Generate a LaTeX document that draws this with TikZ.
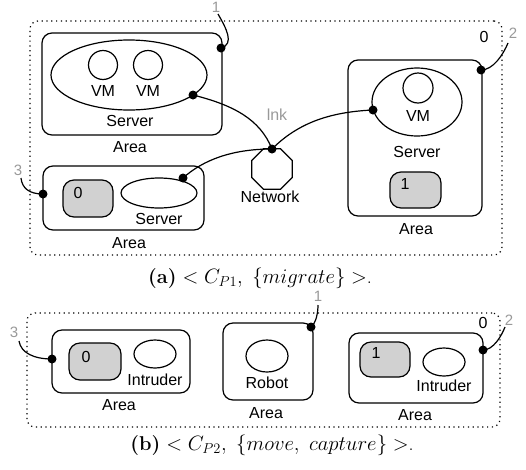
\documentclass[tikz,border=0pt]{standalone}
\usepackage{fontspec}
\newfontfamily\hv{Liberation Sans}
\usetikzlibrary{shapes.geometric}
\tikzset{
  lbl/.style={font=\hv\fontsize{16}{19}\selectfont, inner sep=0pt},
  nm/.style={font=\hv\fontsize{15}{18}\selectfont, text=black!40, inner sep=0pt},
  captiontext/.style={font=\fontsize{20}{24}\selectfont, inner sep=0pt},
  outerbox/.style={draw, line width=1.2pt, dash pattern=on 1.2pt off 3.6pt, rounded corners=8pt, inner sep=0pt},
  areabox/.style={draw, line width=1.2pt, rounded corners=10pt, inner sep=0pt},
  srv/.style={draw, ellipse, line width=1.2pt, inner sep=0pt},
  vm/.style={draw, circle, line width=1.2pt, inner sep=0pt, minimum size=29pt},
  greybox/.style={draw, line width=1.2pt, fill=black!18, rounded corners=11pt, inner sep=0pt},
  port/.style={circle, fill=black, inner sep=0pt, minimum size=9pt},
  lnk/.style={line width=1.2pt},
  net/.style={draw, regular polygon, regular polygon sides=8, minimum size=44pt, line width=1.2pt, inner sep=0pt},
}
\begin{document}
\begin{tikzpicture}[x=1pt,y=-1pt]
\useasboundingbox (0,0) rectangle (526,469);

% ---------------- (a) ----------------
\node[outerbox, minimum width=472pt, minimum height=234pt] (O1) at (266,138) {};
% top-left area
\node[areabox, minimum width=180pt, minimum height=102pt] (A1) at (132,84) {};
\node[srv, minimum width=156pt, minimum height=70pt] (S1) at (129,75) {};
\node[vm] (V11) at (103,65) {};
\node[vm] (V12) at (148,65) {};
\node[lbl] (tV11) at (103,91) {VM};
\node[lbl] (tV12) at (148,91) {VM};
\node[lbl] (tS1) at (130,121) {Server};
\node[lbl] (tA1) at (130,147) {Area};
% right area
\node[areabox, minimum width=134pt, minimum height=156pt] (A2) at (415,138) {};
\node[srv, minimum width=90pt, minimum height=68pt] (S2) at (417,102) {};
\node[vm, minimum size=30pt] (V2) at (418,88) {};
\node[lbl] (tV2) at (418,116) {VM};
\node[lbl] (tS2) at (417,152) {Server};
\node[greybox, minimum width=51pt, minimum height=36pt] (G1) at (415.5,190) {};
\node[lbl] (tG1) at (405,184) {1};
\node[lbl] (tA2) at (416,229) {Area};
% bottom-left area
\node[areabox, minimum width=161pt, minimum height=64pt] (A3) at (123.5,198) {};
\node[greybox, minimum width=50pt, minimum height=37pt] (G0) at (88,198.5) {};
\node[lbl] (tG0) at (78,193) {0};
\node[srv, minimum width=76pt, minimum height=30pt] (S3) at (159,193) {};
\node[lbl] (tS3) at (159,219) {Server};
\node[lbl] (tA3) at (129,243) {Area};
% network
\node[net] (N) at (272,169) {};
\node[lbl] (tN) at (270,197) {Network};
\node[nm, font=\hv\fontsize{16}{19}\selectfont] (tL) at (277,115) {lnk};
% names
\node[nm] (n1) at (216,7) {1};
\node[nm] (n2) at (513,33) {2};
\node[nm] (n3) at (18,170) {3};
\node[lbl] (r0) at (484,37) {0};
\coordinate (e1) at (218,14);
\coordinate (e2) at (508,43);
\coordinate (e3) at (21,178);
% ports
\node[port] (p1) at (221,48) {};
\node[port] (p2) at (193,95) {};
\node[port] (pn) at (272,149) {};
\node[port] (p3) at (373,110) {};
\node[port] (p4) at (481,70) {};
\node[port] (p5) at (183,178) {};
\node[port] (p6) at (43,194) {};
% links
\draw[lnk] (p1.center) .. controls +(14,-4) and +(8,14) .. (e1);
\draw[lnk] (p2.center) .. controls +(40,10) and +(-12,-30) .. (pn.center);
\draw[lnk] (pn.center) .. controls +(25,-25) and +(-45,2) .. (p3.center);
\draw[lnk] (p5.center) .. controls +(20,-18) and +(-40,0) .. (pn.center);
\draw[lnk] (p4.center) .. controls +(12,0) and +(-5,12) .. (e2);
\draw[lnk] (p6.center) .. controls +(-14,0) and +(1,10) .. (e3);
\node[captiontext] (capA) at (260,278) {\textbf{(a)} $<C_{P1},\ \{migrate\}>$.};

% ---------------- (b) ----------------
\node[outerbox, minimum width=473pt, minimum height=114pt] (O2) at (263.5,370) {};
\node[areabox, minimum width=138pt, minimum height=63pt] (B1) at (121,361.5) {};
\node[greybox, minimum width=52pt, minimum height=37pt] (H0) at (95,361.5) {};
\node[lbl] (tH0) at (86,357) {0};
\node[srv, minimum width=42pt, minimum height=28pt] (E1) at (155,354) {};
\node[lbl] (tE1) at (155,380) {Intruder};
\node[lbl] (tB1) at (119,405) {Area};
\node[areabox, minimum width=90pt, minimum height=77pt] (B2) at (268,361.5) {};
\node[srv, minimum width=42pt, minimum height=32pt] (E2) at (267,356) {};
\node[lbl] (tE2) at (267,383) {Robot};
\node[lbl] (tB2) at (266,413) {Area};
\node[areabox, minimum width=134pt, minimum height=70pt] (B3) at (416,368) {};
\node[greybox, minimum width=50pt, minimum height=35pt] (H1) at (385,359.5) {};
\node[lbl] (tH1) at (376,353) {1};
\node[srv, minimum width=42pt, minimum height=28pt] (E3) at (444,362) {};
\node[lbl] (tE3) at (444,386) {Intruder};
\node[lbl] (tB3) at (415,415) {Area};
\node[nm] (m1) at (318,296) {1};
\node[nm] (m2) at (509,320) {2};
\node[nm] (m3) at (14,332) {3};
\node[lbl] (s0) at (483,323) {0};
\coordinate (f1) at (318,305);
\coordinate (f2) at (505,327);
\coordinate (f3) at (19,341);
\node[port] (q1) at (311,327) {};
\node[port] (q4) at (483,350) {};
\node[port] (q6) at (52,359) {};
\draw[lnk] (q1.center) .. controls +(5,-4) and +(0,8) .. (f1);
\draw[lnk] (q4.center) .. controls +(10,0) and +(-4,10) .. (f2);
\draw[lnk] (q6.center) .. controls +(-18,0) and +(2,12) .. (f3);
\node[captiontext] (capB) at (272,445) {\textbf{(b)} $<C_{P2},\ \{move,\ capture\}>$.};
\end{tikzpicture}
\end{document}
